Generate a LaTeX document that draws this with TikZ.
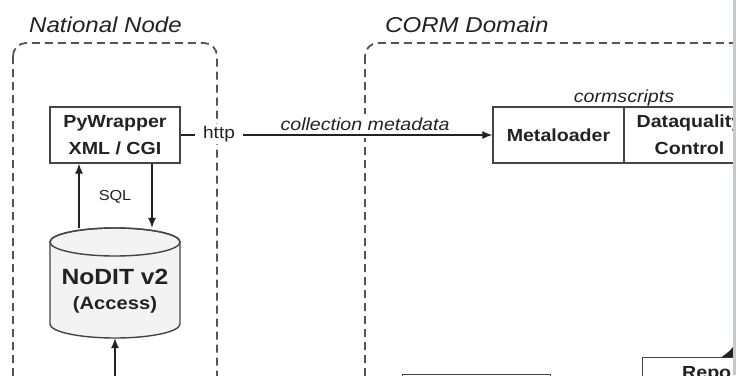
\documentclass[tikz,border=0pt]{standalone}
\usepackage{fontspec}
\setmainfont{Liberation Sans}[FakeStretch=1.12]
\usetikzlibrary{arrows.meta}
\definecolor{ink}{HTML}{222222}
\definecolor{frame}{HTML}{444444}
\definecolor{dashc}{HTML}{555555}
\definecolor{dbfill}{HTML}{F3F3F3}
\definecolor{edgebar}{HTML}{C3CCC9}
\begin{document}
\begin{tikzpicture}[x=1pt,y=-1pt,
 box/.style={draw=frame, line width=1.4pt, fill=white, inner sep=0pt, text=ink, align=center},
 dashbox/.style={draw=dashc, line width=1.8pt, dash pattern=on 8pt off 5pt, rounded corners=13pt},
 arr/.style={draw=ink, line width=1.3pt, -{Latex[length=10pt,width=8pt]}},
 conn/.style={draw=ink, line width=1.3pt},
 title/.style={font=\fontsize{21.5}{26}\selectfont\itshape, text=ink, anchor=base west, inner sep=0pt},
 lbl/.style={text=ink, inner sep=0pt},
 bf/.style={font=\fontsize{17.5}{27}\selectfont\bfseries}
]
\useasboundingbox (0,0) rectangle (736,375);
\fill[white] (0,0) rectangle (736,375);
\clip (0,0) rectangle (736,375);

% titles
\node[title] (tnat) at (29,32) {National Node};
\node[title] (tcorm) at (385,32) {CORM Domain};

% containers
\draw[dashbox] (13,43) rectangle (217,420);
\draw[dashbox] (365,43) rectangle (800,420);

% boxes
\node[box, bf, minimum width=130pt, minimum height=56pt] (py) at (115,135) {PyWrapper\\XML / CGI};
\node[box, bf, minimum width=131pt, minimum height=56pt] (meta) at (558.5,135) {Metaloader};
\node[box, bf, minimum width=131pt, minimum height=56pt] (dq) at (689.5,135) {Dataquality\\Control};
\node[lbl, anchor=base, font=\fontsize{17.5}{21}\selectfont\itshape] (cs) at (624,102) {cormscripts};

% database cylinder
\node[inner sep=0pt, minimum width=130pt, minimum height=110pt] (db) at (115,283) {};
\filldraw[fill=dbfill, draw=frame, line width=1.4pt] (50,242) -- (50,324)
  arc[start angle=180, end angle=0, x radius=65, y radius=14] -- (180,242)
  arc[start angle=0, end angle=-180, x radius=65, y radius=14] -- cycle;
\draw[frame, line width=1.4pt] (115,242) ellipse [x radius=65, y radius=14];
\node[lbl, align=center, font=\fontsize{18}{25}\selectfont\bfseries] (dbt) at (115,291)
  {{\fontsize{22}{25}\selectfont NoDIT v2}\\(Access)};

% labels
\node[lbl, fill=white, inner xsep=8pt, inner ysep=2pt, anchor=base, font=\fontsize{17}{20}\selectfont] (http) at (219,138) {http};
\node[lbl, fill=white, inner sep=3pt, text depth=5pt, anchor=base, font=\fontsize{17.5}{21}\selectfont\itshape] (cm) at (365,130) {collection metadata};
\node[lbl, font=\fontsize{14.5}{17}\selectfont] (sql) at (115,197) {SQL};

% connectors
\draw[conn] (py.east) -- (py.east -| http.west);
\draw[arr] (py.east -| http.east) -- (meta.west);
\draw[arr] ([xshift=-36pt]db.north) -- ([xshift=-36pt]py.south);
\draw[arr] ([xshift=37pt]py.south) -- ([xshift=37pt]db.north);
\coordinate (below) at (115,400);
\draw[arr] (below) -- (db.south);

% partial boxes at bottom
\node[box, anchor=north west, minimum width=148pt, minimum height=40pt] (b1) at (402,374) {};
\node[box, anchor=north west, minimum width=130pt, minimum height=50pt] (repo) at (642,357) {};
\node[lbl, anchor=base west, font=\fontsize{17.5}{21}\selectfont\bfseries] (repot) at (682,378) {Repo};
\coordinate (rtip) at (733,347);
\draw[draw=ink, line width=1.3pt, -{Latex[length=10pt,width=24pt]}] (rtip |- repo.north) -- (rtip);

% right edge bar
\fill[edgebar] (733,0) rectangle (736,375);
\end{tikzpicture}
\end{document}
